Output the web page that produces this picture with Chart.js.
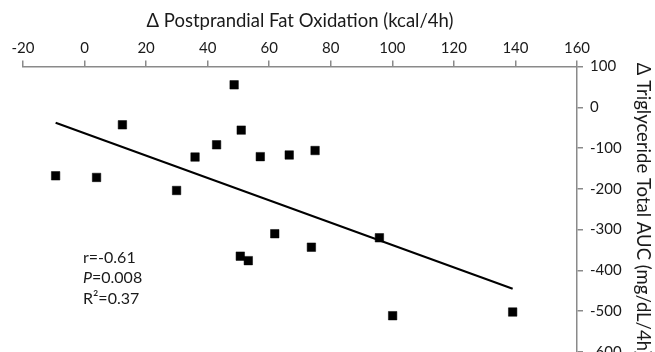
<!DOCTYPE html>
<html>
<head>
<meta charset="utf-8">
<script src="https://cdn.jsdelivr.net/npm/chart.js@4.4.1/dist/chart.umd.min.js"></script>
<style>
  html, body { margin: 0; padding: 0; background: #fff; overflow: hidden; }
  #wrap { width: 655px; height: 368px; }
</style>
</head>
<body>
<div id="wrap"><canvas id="chart" width="655" height="368"></canvas></div>
<script>
    // change in postprandial fat oxidation (kcal/4h) vs change in triglyceride AUC
    const fatOxidation = [-9.4, 3.9, 12.3, 35.9, 29.9, 42.9, 48.6, 50.9, 57.1, 66.5, 74.9, 50.6, 53.2, 61.8, 73.7, 95.8, 100.1, 139.1];
    const tgAuc = [-168, -172, -43, -122, -204, -92, 55, -56, -121, -117, -106, -365, -376, -310, -343, -320, -511, -502];

    // regression line end points
    const fitX = [-9.4, 139.1];
    const fitY = [-38, -445];

    const statLines = ["r=-0.61", "P=0.008", "R²=0.37"];

    const xTitle = "Δ Postprandial Fat Oxidation (kcal/4h)";
    const yTitle = "Δ Triglyceride Total AUC (mg/dL/4h)";

    const fontFamily = "Lato, 'Open Sans', sans-serif";
    const axisColor = "#8a8a8a";
    const textColor = "#1a1a1a";

    const points = fatOxidation.map((x, i) => ({ x: x, y: tgAuc[i] }));
    const fitLine = fitX.map((x, i) => ({ x: x, y: fitY[i] }));

    // draws the r / P / R2 block in the lower left
    const statsPlugin = {
        id: "stats",
        afterDatasetsDraw(chart) {
            const ctx = chart.ctx;
            const area = chart.chartArea;
            const left = area.left + 60;
            let y = area.top + 191;
            ctx.save();
            ctx.fillStyle = textColor;
            ctx.textBaseline = "middle";
            ctx.textAlign = "left";
            statLines.forEach((line) => {
                if (line.startsWith("P")) {
                    ctx.font = "italic 16px " + fontFamily;
                    ctx.fillText("P", left, y);
                    const w = ctx.measureText("P").width;
                    ctx.font = "16px " + fontFamily;
                    ctx.fillText(line.slice(1), left + w, y);
                } else {
                    ctx.font = "16px " + fontFamily;
                    ctx.fillText(line, left, y);
                }
                y += 20.5;
            });
            ctx.restore();
        }
    };

    const ctx = document.getElementById("chart").getContext("2d");
    new Chart(ctx, {
        type: "scatter",
        data: {
            datasets: [
                {
                    label: "subjects",
                    data: points,
                    pointStyle: "rect",
                    pointRadius: 6,
                    pointHoverRadius: 6,
                    backgroundColor: "#000",
                    borderColor: "#000",
                    borderWidth: 0.5
                },
                {
                    label: "fit",
                    type: "line",
                    data: fitLine,
                    borderColor: "#000",
                    borderWidth: 2,
                    pointRadius: 0,
                    fill: false
                }
            ]
        },
        options: {
            responsive: false,
            animation: false,
            devicePixelRatio: 1,
            layout: { padding: { left: 23, right: 0, top: 0, bottom: 0 } },
            plugins: {
                legend: { display: false },
                tooltip: { enabled: false }
            },
            scales: {
                x: {
                    type: "linear",
                    position: "top",
                    min: -20,
                    max: 160,
                    ticks: {
                        stepSize: 20,
                        color: textColor,
                        font: { family: fontFamily, size: 15 },
                        padding: 3,
                        maxRotation: 0
                    },
                    grid: { drawOnChartArea: false, drawTicks: true, tickLength: 6, color: axisColor, lineWidth: 1.5 },
                    border: { display: true, color: axisColor, width: 1.5 },
                    title: {
                        display: true,
                        text: xTitle,
                        color: textColor,
                        font: { family: fontFamily, size: 18.5 },
                        padding: { top: 10, bottom: 4 }
                    },
                    afterFit(scale) { scale.height = 66.5; }
                },
                y: {
                    type: "linear",
                    position: "right",
                    min: -600,
                    max: 100,
                    ticks: {
                        stepSize: 100,
                        color: textColor,
                        font: { family: fontFamily, size: 15 },
                        padding: 7
                    },
                    grid: { drawOnChartArea: false, drawTicks: true, tickLength: 6, color: axisColor, lineWidth: 1.5 },
                    border: { display: true, color: axisColor, width: 1.5 },
                    title: {
                        display: true,
                        text: yTitle,
                        color: textColor,
                        font: { family: fontFamily, size: 18.5 },
                        padding: { top: 1, bottom: 4 }
                    },
                    afterFit(scale) { scale.width = 78; }
                }
            }
        },
        plugins: [statsPlugin]
    });
</script>
</body>
</html>
